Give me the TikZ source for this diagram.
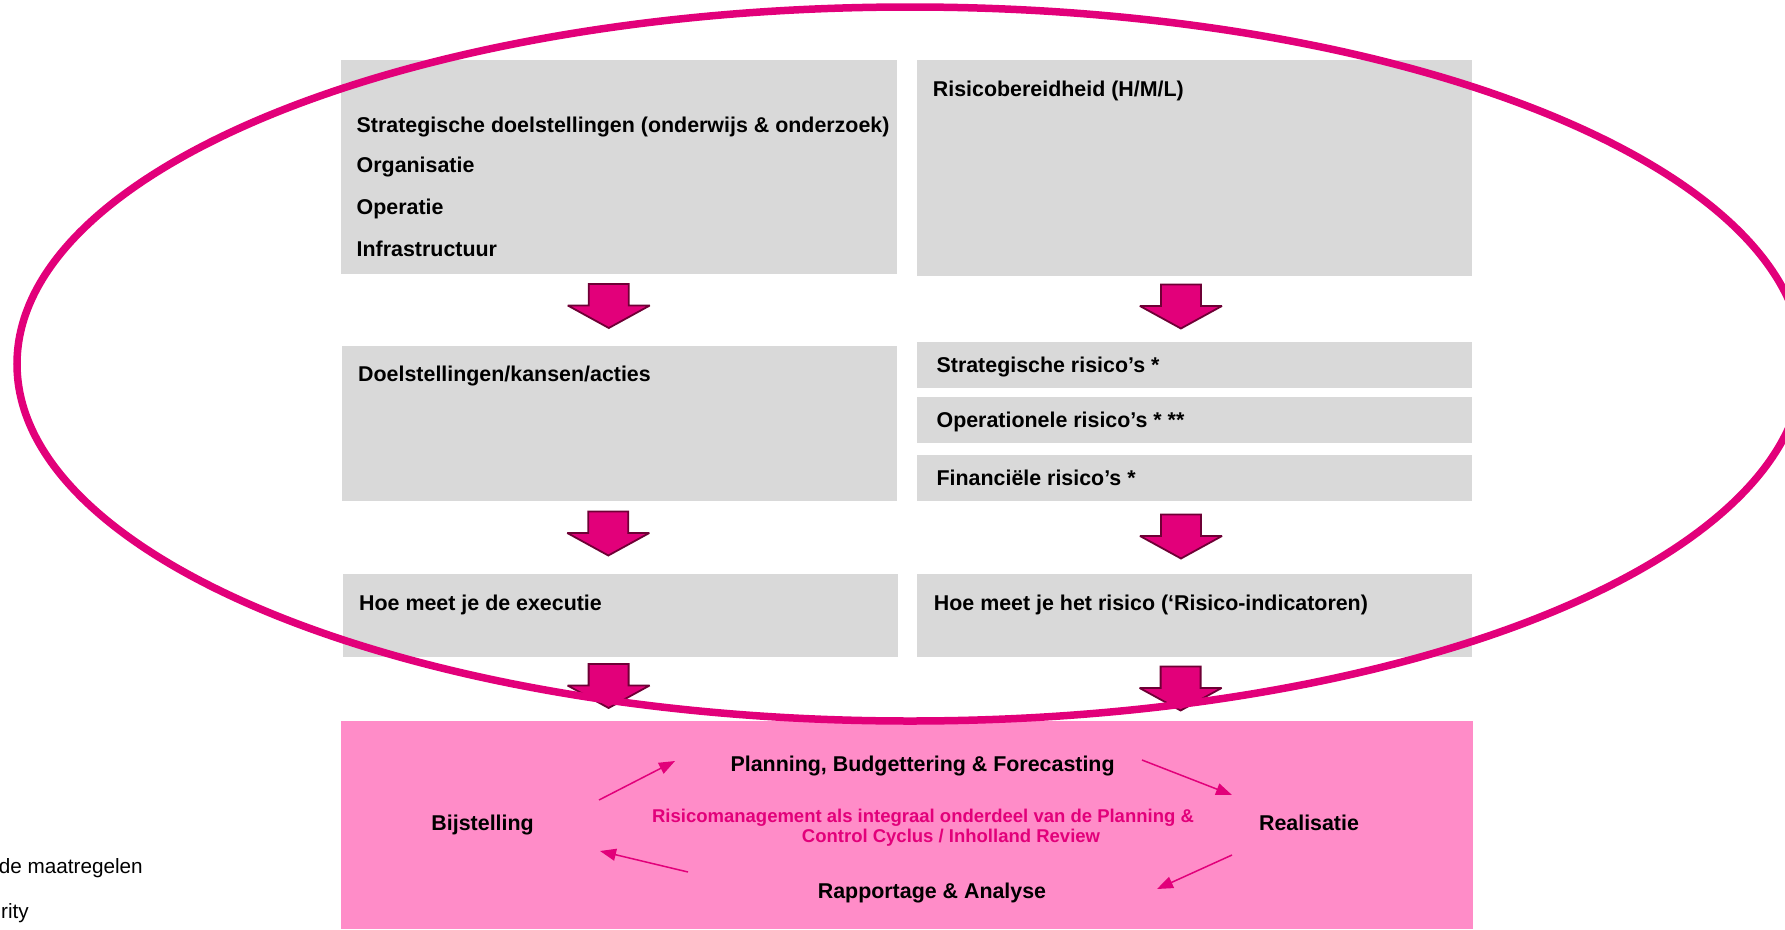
\documentclass[tikz,border=0pt]{standalone}
\usepackage{fontspec}
\setmainfont{Liberation Sans}
\usetikzlibrary{arrows.meta}
\definecolor{boxgray}{HTML}{D9D9D9}
\definecolor{hmag}{HTML}{E2007A}
\definecolor{arrowedge}{HTML}{6E0035}
\definecolor{pinkbox}{HTML}{FF8CC8}
\tikzset{
  box/.style={rectangle, fill=boxgray, draw=none, inner sep=0pt, outer sep=0pt},
  lbl/.style={anchor=base west, inner sep=0pt, font=\fontsize{21.4}{25}\selectfont\bfseries},
  cyclbl/.style={anchor=base, inner sep=0pt, font=\fontsize{21.4}{25}\selectfont\bfseries},
  risklbl/.style={anchor=base, inner sep=0pt, text=hmag, font=\fontsize{18.5}{22}\selectfont\bfseries},
  sidelbl/.style={anchor=base east, inner sep=0pt, font=\fontsize{20.7}{24}\selectfont},
  cyc/.style={draw=hmag, line width=1.5pt, -{Triangle[length=16pt,width=12pt]}},
  blockarrow/.pic={
    \draw[fill=hmag, draw=arrowedge, line width=1.8pt, line join=miter, miter limit=2]
      (-20,0) -- (20,0) -- (20,21.5) -- (41,21.5) -- (0,44) -- (-41,21.5) -- (-20,21.5) -- cycle;
  }
}
\begin{document}
\begin{tikzpicture}[x=1pt,y=-1pt]
\useasboundingbox (0,0) rectangle (1785,929);

% gray boxes
\node[box, minimum width=556pt, minimum height=214pt] (boxA) at (619,167) {};
\node[box, minimum width=555pt, minimum height=216pt] (boxB) at (1194.5,168) {};
\node[box, minimum width=555pt, minimum height=155pt] (boxC) at (619.5,423.5) {};
\node[box, minimum width=555pt, minimum height=46pt] (boxS1) at (1194.5,365) {};
\node[box, minimum width=555pt, minimum height=46pt] (boxS2) at (1194.5,420) {};
\node[box, minimum width=555pt, minimum height=46pt] (boxS3) at (1194.5,478) {};
\node[box, minimum width=555pt, minimum height=83pt] (boxE) at (620.5,615.5) {};
\node[box, minimum width=555pt, minimum height=83pt] (boxF) at (1194.5,615.5) {};

% pink box
\node[rectangle, fill=pinkbox, draw=none, inner sep=0pt, minimum width=1131.5pt, minimum height=208pt] (cycle) at (906.75,825) {};

% labels in gray boxes
\node[lbl] (tA1) at (356.5,132.3) {Strategische doelstellingen (onderwijs \& onderzoek)};
\node[lbl] (tA2) at (356.5,172.7) {Organisatie};
\node[lbl] (tA3) at (356.5,214.3) {Operatie};
\node[lbl] (tA4) at (356.5,256) {Infrastructuur};
\node[lbl] (tB) at (932.7,96) {Risicobereidheid (H/M/L)};
\node[lbl] (tC) at (358,381.7) {Doelstellingen/kansen/acties};
\node[lbl] (tS1) at (936.4,372.7) {Strategische risico’s *};
\node[lbl] (tS2) at (936.4,427.7) {Operationele risico’s * **};
\node[lbl] (tS3) at (936.4,485.7) {Financiële risico’s *};
\node[lbl] (tE) at (359,610.7) {Hoe meet je de executie};
\node[lbl] (tF) at (933.7,610.7) {Hoe meet je het risico (‘Risico-indicatoren)};

% block arrows
\pic at (608.8,284) {blockarrow};
\pic at (1180.9,284.5) {blockarrow};
\pic at (608.3,511.5) {blockarrow};
\pic at (1181,514.5) {blockarrow};
\pic at (608.6,664) {blockarrow};
\pic at (1180.6,666.5) {blockarrow};

% cycle labels
\node[cyclbl] (plan) at (922.6,771.7) {Planning, Budgettering \& Forecasting};
\node[cyclbl] (bijst) at (482.6,830) {Bijstelling};
\node[cyclbl] (real) at (1309,830) {Realisatie};
\node[cyclbl] (rapp) at (932,898) {Rapportage \& Analyse};
\node[risklbl] (risk1) at (923,822) {Risicomanagement als integraal onderdeel van de Planning \&};
\node[risklbl] (risk2) at (951,842.7) {Control Cyclus / Inholland Review};

% cycle arrows
\coordinate (a1s) at (599,800);
\coordinate (a1e) at (675,761);
\coordinate (a2s) at (1142,760);
\coordinate (a2e) at (1232,795);
\coordinate (a3s) at (1232,855);
\coordinate (a3e) at (1157,889);
\coordinate (a4s) at (688,872);
\coordinate (a4e) at (600,851);
\draw[cyc] (a1s) -- (a1e);
\draw[cyc] (a2s) -- (a2e);
\draw[cyc] (a3s) -- (a3e);
\draw[cyc] (a4s) -- (a4e);

% clipped side texts
\node[sidelbl] (side1) at (143,873.3) {de maatregelen};
\node[sidelbl] (side2) at (29,918) {rity};

% big ellipse
\draw[hmag, line width=7.5pt] (910,364) ellipse [x radius=893pt, y radius=357pt];
\end{tikzpicture}
\end{document}
